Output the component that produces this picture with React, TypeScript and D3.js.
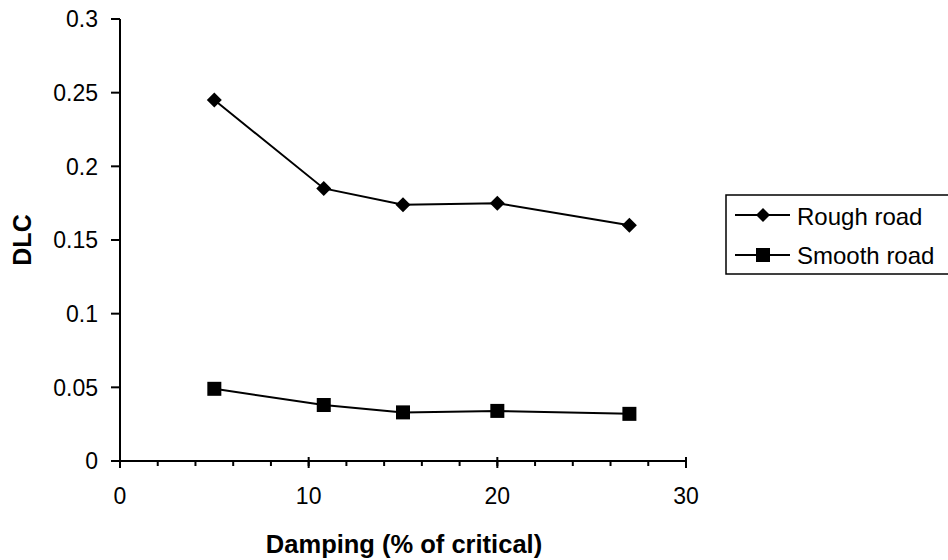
import React from "react";
import * as d3 from "d3";

const dampingValues = [5, 10.8, 15, 20, 27];
const roughRoad = [0.245, 0.185, 0.174, 0.175, 0.16];
const smoothRoad = [0.049, 0.038, 0.033, 0.034, 0.032];
const xTicks = [0, 10, 20, 30];
const yTicks = [0, 0.05, 0.1, 0.15, 0.2, 0.25, 0.3];
const seriesNames = ["Rough road", "Smooth road"];

const W = 948;
const H = 560;
const FONT = "Liberation Sans, Arial, sans-serif";

export default function App() {
  const x = d3.scaleLinear().domain([0, 30]).range([120, 686]);
  const y = d3.scaleLinear().domain([0, 0.3]).range([461, 19]);
  const minorX = d3.range(0, 30.001, 2);
  const line = d3
    .line<number>()
    .x((_, i) => x(dampingValues[i]))
    .y((d) => y(d));

  const diamond = (cx: number, cy: number, r = 7.5) =>
    `M${cx},${cy - r}L${cx + r},${cy}L${cx},${cy + r}L${cx - r},${cy}Z`;
  const sq = 14;

  return (
    <svg
      width={W}
      height={H}
      style={{ position: "absolute", left: 0, top: 0, background: "#fff" }}
      fontFamily={FONT}
    >
      {/* axes */}
      <line x1={120} x2={120} y1={y(0.3)} y2={y(0)} stroke="#000" strokeWidth={2} />
      <line x1={120} x2={686} y1={461} y2={461} stroke="#000" strokeWidth={2} />
      {yTicks.map((t) => (
        <g key={"y" + t}>
          <line x1={111} x2={120} y1={y(t)} y2={y(t)} stroke="#000" strokeWidth={2} />
          <text x={98} y={y(t)} dy="0.36em" textAnchor="end" fontSize={23}>
            {String(t)}
          </text>
        </g>
      ))}
      {minorX.map((t) => (
        <line key={"m" + t} x1={x(t)} x2={x(t)} y1={461} y2={466} stroke="#000" strokeWidth={2} />
      ))}
      {xTicks.map((t) => (
        <g key={"x" + t}>
          <line x1={x(t)} x2={x(t)} y1={457} y2={468} stroke="#000" strokeWidth={2} />
          <text x={x(t)} y={504} textAnchor="middle" fontSize={23}>
            {t}
          </text>
        </g>
      ))}
      <text x={404} y={553} textAnchor="middle" fontSize={25.5} fontWeight="bold">
        Damping (% of critical)
      </text>
      <text
        transform={`translate(31,240) rotate(-90)`}
        textAnchor="middle"
        fontSize={25}
        fontWeight="bold"
      >
        DLC
      </text>

      {/* series */}
      <path d={line(roughRoad) || ""} fill="none" stroke="#000" strokeWidth={2} />
      {roughRoad.map((v, i) => (
        <path key={"r" + i} d={diamond(x(dampingValues[i]), y(v))} fill="#000" />
      ))}
      <path d={line(smoothRoad) || ""} fill="none" stroke="#000" strokeWidth={2} />
      {smoothRoad.map((v, i) => (
        <rect
          key={"s" + i}
          x={x(dampingValues[i]) - sq / 2}
          y={y(v) - sq / 2}
          width={sq}
          height={sq}
          fill="#000"
        />
      ))}

      {/* legend */}
      <rect x={726} y={195} width={240} height={79} fill="none" stroke="#000" strokeWidth={1.5} />
      <line x1={735} x2={790} y1={215} y2={215} stroke="#000" strokeWidth={2} />
      <path d={diamond(763, 215, 7)} fill="#000" />
      <text x={797} y={216.5} dy="0.36em" fontSize={24}>
        {seriesNames[0]}
      </text>
      <line x1={735} x2={790} y1={255} y2={255} stroke="#000" strokeWidth={2} />
      <rect x={763 - 7} y={255 - 7} width={14} height={14} fill="#000" />
      <text x={797} y={255} dy="0.36em" fontSize={24}>
        {seriesNames[1]}
      </text>
    </svg>
  );
}
